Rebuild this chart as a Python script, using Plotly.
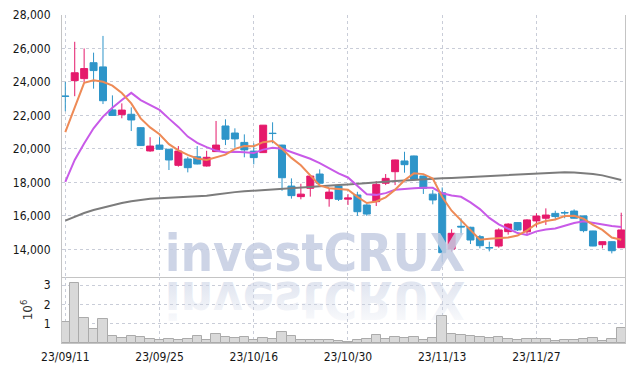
import plotly.graph_objects as go
from plotly.subplots import make_subplots

# ---------------- data ----------------
dates = [
    "2023-09-11", "2023-09-12", "2023-09-13", "2023-09-14", "2023-09-15",
    "2023-09-18", "2023-09-19", "2023-09-20", "2023-09-21", "2023-09-22",
    "2023-09-25", "2023-09-26", "2023-09-27", "2023-10-04", "2023-10-05",
    "2023-10-06", "2023-10-10", "2023-10-11", "2023-10-12", "2023-10-13",
    "2023-10-16", "2023-10-17", "2023-10-18", "2023-10-19", "2023-10-20",
    "2023-10-23", "2023-10-24", "2023-10-25", "2023-10-26", "2023-10-27",
    "2023-10-30", "2023-10-31", "2023-11-01", "2023-11-02", "2023-11-03",
    "2023-11-06", "2023-11-07", "2023-11-08", "2023-11-09", "2023-11-10",
    "2023-11-13", "2023-11-14", "2023-11-15", "2023-11-16", "2023-11-17",
    "2023-11-20", "2023-11-21", "2023-11-22", "2023-11-23", "2023-11-24",
    "2023-11-27", "2023-11-28", "2023-11-29", "2023-11-30", "2023-12-01",
    "2023-12-04", "2023-12-05", "2023-12-06", "2023-12-07", "2023-12-08",
]

opens = [23160, 24080, 24200, 25150, 24900, 22330, 22050, 22070, 21270, 19880,
         20230, 19980, 19020, 19400, 19530, 18980, 19840, 21370, 20950, 20390,
         19870, 19780, 20940, 20230, 17780, 17150, 17650, 18500, 17030, 17780,
         17000, 17250, 16650, 16850, 17950, 18640, 19280, 19580, 18380, 17300,
         17380, 14020, 15380, 15320, 14760, 14110, 14200, 15060, 15600, 15050,
         15700, 15860, 16150, 16200, 16290, 16000, 15100, 14280, 14460, 14100]
highs = [24000, 26400, 26000, 25750, 26750, 23200, 22720, 22480, 21300, 20700,
         20700, 20000, 20170, 19530, 20170, 19890, 21670, 21770, 21230, 20870,
         20330, 21430, 21590, 20250, 18240, 17920, 18400, 18780, 17650, 17800,
         17300, 17440, 16700, 18080, 18500, 19360, 19830, 19600, 18400, 17540,
         17700, 15200, 15850, 15350, 14860, 14460, 15260, 15560, 15620, 15800,
         16160, 16450, 16310, 16310, 16390, 16010, 15110, 14470, 14480, 16190]
lows = [22250, 23150, 24000, 23600, 22680, 21980, 21830, 21070, 20190, 19830,
        19960, 18740, 18940, 18600, 19080, 18950, 19830, 20230, 20070, 19500,
        19080, 19770, 20340, 17500, 17030, 16990, 17150, 17940, 16550, 16890,
        16650, 16000, 16000, 16590, 17840, 17840, 18580, 18150, 17310, 16690,
        13260, 13860, 14860, 14320, 14060, 13880, 14100, 14880, 15100, 14860,
        15320, 15460, 15750, 15860, 15850, 15020, 14190, 14060, 13760, 14080]
closes = [23140, 24550, 24800, 24680, 22880, 22000, 22320, 21730, 20200, 20170,
          19980, 19340, 19870, 18880, 19100, 19500, 20230, 20580, 20600, 19940,
          19480, 21420, 20920, 18280, 17210, 17300, 18380, 17950, 17420, 16990,
          17070, 16250, 16110, 17880, 18240, 19340, 19060, 18190, 17650, 16950,
          13800, 14960, 15340, 14560, 14220, 14090, 15160, 15510, 15160, 15760,
          15990, 16050, 15960, 16180, 15860, 15120, 14200, 14460, 13920, 15160]

ma5 = [21000, 22500, 23950, 24100, 24012, 23782, 23336, 22722, 21826, 21284,
       20880, 20284, 19912, 19648, 19434, 19338, 19516, 19658, 20002, 20170,
       20166, 20404, 20474, 20010, 19464, 19028, 18420, 17824, 17652, 17608,
       17562, 17136, 16768, 16860, 17110, 17564, 18126, 18542, 18496, 18238,
       17130, 16310, 15740, 15122, 14576, 14634, 14674, 14708, 14828, 15136,
       15516, 15694, 15784, 15988, 16008, 15834, 15464, 15164, 14712, 14572]
ma10 = [18030, 19340, 20330, 21230, 21930, 22460, 22920, 23350, 22920, 22648,
        22331, 21810, 21317, 20737, 20359, 20109, 19900, 19785, 19825, 19802,
        19752, 19960, 20066, 20006, 19817, 19597, 19412, 19149, 18831, 18536,
        18295, 17778, 17296, 17256, 17359, 17563, 17631, 17655, 17678, 17674,
        17347, 17218, 17141, 16809, 16407, 15882, 15492, 15224, 14975, 14856,
        15075, 15184, 15246, 15408, 15572, 15675, 15579, 15474, 15392, 15332]
ma_long = [15720, 15960, 16170, 16350, 16500, 16640, 16770, 16880, 16960, 17020,
           17060, 17090, 17110, 17130, 17160, 17210, 17280, 17360, 17420, 17470,
           17510, 17550, 17590, 17630, 17680, 17710, 17740, 17770, 17800, 17840,
           17870, 17920, 17960, 18000, 18040, 18080, 18120, 18160, 18190, 18220,
           18250, 18270, 18300, 18330, 18360, 18390, 18420, 18440, 18470, 18520,
           18560, 18590, 18600, 18610, 18590, 18560, 18500, 18420, 18290, 18140]

volume_m = [1.07, 3.09, 1.28, 0.71, 1.23, 0.36, 0.24, 0.35, 0.30, 0.19,
            0.17, 0.22, 0.14, 0.19, 0.35, 0.14, 0.45, 0.30, 0.24, 0.30,
            0.14, 0.24, 0.19, 0.55, 0.35, 0.14, 0.17, 0.16, 0.14, 0.12,
            0.07, 0.17, 0.19, 0.40, 0.21, 0.30, 0.28, 0.30, 0.16, 0.24,
            1.38, 0.47, 0.40, 0.35, 0.30, 0.26, 0.30, 0.19, 0.16, 0.19,
            0.19, 0.19, 0.12, 0.14, 0.16, 0.21, 0.24, 0.10, 0.19, 0.76]

tick_dates = ["2023-09-11", "2023-09-25", "2023-10-16", "2023-10-30", "2023-11-13", "2023-11-27"]
tick_labels = ["23/09/11", "23/09/25", "23/10/16", "23/10/30", "23/11/13", "23/11/27"]
price_ticks = [14000, 16000, 18000, 20000, 22000, 24000, 26000, 28000]
volume_ticks = [1, 2, 3]
watermark = "investCRUX"

# ---------------- styling ----------------
RED = "#e5196b"
BLUE = "#2e95c9"
ORANGE = "#ee8a56"
PURPLE = "#c85ae8"
GRAY = "#7c7c7c"
GRID = "#c9cdd8"
AXIS = "#c4c4c4"
LABEL_FONT = dict(family="DejaVu Sans Condensed, sans-serif", size=12, color="#161616")
WM_FONT = "DejaVu Sans Condensed, sans-serif"

x_idx = list(range(len(dates)))
tick_pos = [dates.index(d) for d in tick_dates]
mid_pos = (len(dates) - 1) * 0.449

fig = make_subplots(rows=2, cols=1, shared_xaxes=True, vertical_spacing=0,
                    row_heights=[262, 66])

# watermark (drawn first so it sits under the marks)
fig.add_trace(go.Scatter(
    x=[mid_pos], y=[13480], mode="text", text=[watermark], textposition="middle center",
    textfont=dict(family=WM_FONT, size=51, color="rgba(196,204,226,0.85)", weight="bold"),
    hoverinfo="skip", showlegend=False, cliponaxis=False), row=1, col=1)
fig.add_trace(go.Scatter(
    x=[mid_pos], y=[2.0], mode="text", text=[watermark], textposition="middle center",
    textfont=dict(family=WM_FONT, size=51, color="rgba(205,212,230,0.6)", weight="bold"),
    hoverinfo="skip", showlegend=False, cliponaxis=False), row=2, col=1)

fig.add_trace(go.Candlestick(
    x=x_idx, open=opens, high=highs, low=lows, close=closes,
    increasing=dict(line=dict(color=RED, width=1), fillcolor=RED),
    decreasing=dict(line=dict(color=BLUE, width=1), fillcolor=BLUE),
    whiskerwidth=0, showlegend=False, hoverinfo="skip"), row=1, col=1)

fig.add_trace(go.Scatter(x=x_idx, y=ma_long, mode="lines", line=dict(color=GRAY, width=2),
                         showlegend=False, hoverinfo="skip"), row=1, col=1)
fig.add_trace(go.Scatter(x=x_idx, y=ma10, mode="lines", line=dict(color=PURPLE, width=2),
                         showlegend=False, hoverinfo="skip"), row=1, col=1)
fig.add_trace(go.Scatter(x=x_idx, y=ma5, mode="lines", line=dict(color=ORANGE, width=2),
                         showlegend=False, hoverinfo="skip"), row=1, col=1)

fig.add_trace(go.Bar(x=x_idx, y=volume_m, width=1.0,
                     marker=dict(color="#d9d9d9", line=dict(color="#ababab", width=1)),
                     showlegend=False, hoverinfo="skip"), row=2, col=1)

xcommon = dict(range=[-0.35, 59.4], tickmode="array", tickvals=tick_pos, ticktext=tick_labels,
               showgrid=True, gridcolor=GRID, griddash="dot", gridwidth=1,
               zeroline=False, showline=True, linecolor=AXIS, linewidth=1, automargin=False,
               tickfont=LABEL_FONT, ticks="", rangeslider=dict(visible=False))
fig.update_xaxes(**xcommon)
fig.update_xaxes(showticklabels=False, row=1, col=1)
fig.update_xaxes(ticklabelstandoff=3, row=2, col=1)

fig.update_yaxes(range=[12350, 28000], tickmode="array", tickvals=price_ticks,
                 tickformat=",d", tickfont=LABEL_FONT, showgrid=True, gridcolor=GRID,
                 griddash="dot", zeroline=False, showline=True, linecolor=AXIS, mirror=True,
                 ticks="", ticklabelstandoff=8, automargin=False, row=1, col=1)
fig.update_yaxes(range=[0, 3.42], tickmode="array", tickvals=volume_ticks,
                 ticktext=[str(v) for v in volume_ticks],
                 tickfont=LABEL_FONT, showgrid=True, gridcolor=GRID,
                 griddash="dot", zeroline=False, showline=True, linecolor=AXIS, mirror=True,
                 ticks="", ticklabelstandoff=8, automargin=False,
                 title=dict(text="10<sup>6</sup>", standoff=8,
                            font=dict(family="DejaVu Sans, sans-serif", size=12, color="#333333")),
                 row=2, col=1)

fig.update_layout(width=634, height=371, margin=dict(l=62, r=9, t=15, b=28),
                  paper_bgcolor="white", plot_bgcolor="white", showlegend=False,
                  bargap=0, boxgap=0.26, boxgroupgap=0)

post = """
(function(){
  document.documentElement.style.margin = '0';
  document.body.style.margin = '0';
  document.body.style.padding = '0';
  function flip(){
    var gd = document.getElementById('{plot_id}');
    if(!gd) return;
    var svg = gd.querySelector('svg.main-svg');
    var defs = svg ? svg.querySelector('defs') : null;
    if(defs && !defs.querySelector('#wmfade')){
      var ns = 'http://www.w3.org/2000/svg';
      var g = document.createElementNS(ns, 'linearGradient');
      g.setAttribute('id', 'wmfade');
      g.setAttribute('x1', '0'); g.setAttribute('y1', '0');
      g.setAttribute('x2', '0'); g.setAttribute('y2', '1');
      var s1 = document.createElementNS(ns, 'stop');
      s1.setAttribute('offset', '0'); s1.setAttribute('stop-color', 'rgb(205,212,230)');
      s1.setAttribute('stop-opacity', '0.05');
      var s2 = document.createElementNS(ns, 'stop');
      s2.setAttribute('offset', '1'); s2.setAttribute('stop-color', 'rgb(205,212,230)');
      s2.setAttribute('stop-opacity', '0.75');
      g.appendChild(s1); g.appendChild(s2); defs.appendChild(g);
    }
    var texts = gd.querySelectorAll('.textpoint text');
    var found = [];
    texts.forEach(function(t){ if(t.textContent === 'investCRUX') found.push(t); });
    if(found.length > 1){
      var t = found[1];
      t.style.transformBox = 'fill-box';
      t.style.transformOrigin = 'center';
      t.style.transform = 'scaleY(-1)';
      t.style.fill = 'url(#wmfade)';
      t.style.fillOpacity = '1';
    }
  }
  flip();
  setTimeout(flip, 50);
  setTimeout(flip, 300);
})();
"""
fig.write_html("out.html", post_script=post, config={"displayModeBar": False})
